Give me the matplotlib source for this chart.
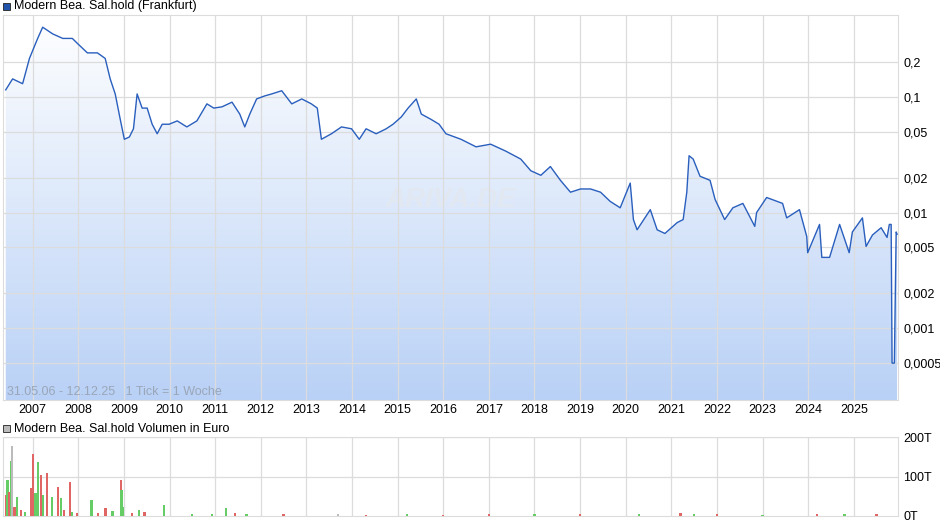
import matplotlib
matplotlib.use("Agg")
import matplotlib.pyplot as plt
import numpy as np
from matplotlib.patches import Rectangle
from matplotlib.colors import LinearSegmentedColormap

# ---- data (decimal years) ----
price_t = [2006.41,2006.56,2006.78,2006.93,2007.11,2007.22,2007.44,2007.66,2007.87,2007.98,
           2008.20,2008.42,2008.59,2008.70,2008.81,2008.92,2009.01,2009.12,2009.21,2009.29,
           2009.40,2009.51,2009.62,2009.73,2009.84,2009.99,2010.17,2010.38,2010.60,2010.82,
           2010.97,2011.15,2011.37,2011.54,2011.65,2011.76,2011.91,2012.09,2012.24,2012.46,
           2012.68,2012.90,2013.11,2013.24,2013.33,2013.55,2013.77,2013.99,2014.16,2014.31,
           2014.53,2014.75,2014.90,2015.08,2015.23,2015.41,2015.52,2015.73,2015.91,2016.06,
           2016.39,2016.72,2017.04,2017.37,2017.70,2017.92,2018.14,2018.35,2018.57,2018.79,
           2019.01,2019.23,2019.45,2019.66,2019.88,2020.10,2020.17,2020.25,2020.54,2020.69,
           2020.86,2021.13,2021.26,2021.34,2021.39,2021.48,2021.63,2021.85,2021.96,2022.17,
           2022.35,2022.57,2022.83,2022.87,2023.09,2023.44,2023.53,2023.81,2023.97,2023.99,
           2024.25,2024.30,2024.47,2024.69,2024.90,2024.97,2025.19,2025.27,2025.41,2025.60,
           2025.73,2025.78,2025.82,2025.84,2025.89,2025.93,2025.95]
price_v = [0.115,0.143,0.13,0.215,0.32,0.40,0.35,0.32,0.32,0.29,
           0.24,0.24,0.215,0.143,0.106,0.064,0.043,0.045,0.053,0.106,
           0.08,0.08,0.058,0.048,0.058,0.058,0.062,0.055,0.062,0.087,
           0.08,0.082,0.09,0.071,0.055,0.071,0.096,0.102,0.106,0.113,
           0.087,0.096,0.087,0.08,0.043,0.048,0.055,0.053,0.043,0.053,
           0.048,0.053,0.058,0.067,0.08,0.096,0.071,0.064,0.058,0.048,
           0.043,0.037,0.039,0.034,0.029,0.023,0.021,0.025,0.019,0.015,
           0.016,0.016,0.015,0.0125,0.011,0.018,0.0087,0.0071,0.0106,0.0071,
           0.0066,0.0082,0.0087,0.015,0.031,0.029,0.0206,0.019,0.013,0.0087,
           0.011,0.012,0.0076,0.010,0.0135,0.012,0.0090,0.0106,0.0062,0.0045,
           0.0079,0.0041,0.0041,0.0079,0.0045,0.0068,0.0090,0.0051,0.0064,0.0074,
           0.0061,0.0079,0.0079,0.0005,0.0005,0.0068,0.0065]

vol_t = [2006.42,2006.45,2006.49,2006.53,2006.55,2006.60,2006.66,2006.74,2006.83,2006.96,
         2007.01,2007.06,2007.12,2007.18,2007.23,2007.31,2007.42,2007.55,2007.62,2007.68,
         2007.82,2007.87,2007.98,2008.29,2008.44,2008.60,2008.75,2008.93,2008.95,2008.98,
         2009.18,2009.33,2009.45,2009.88,2010.49,2010.93,2011.24,2011.43,2011.69,2012.5,
         2013.7,2014.3,2015.2,2016.0,2017.0,2018.0,2019.0,2020.3,2021.2,2021.5,
         2022.0,2023.0,2024.2,2024.8,2025.5]
vol_v = [54,92,62,138,177,23,49,15,10,72,
         156,59,136,105,54,110,49,74,46,15,
         87,10,8,41,8,20,12,90,67,24,
         8,14,10,28,6,5,20,8,6,4,
         5,3,4,3,4,5,4,6,8,5,
         4,3,5,4,6]
vol_c = ['r','g','r','g','n','r','g','r','g','r',
         'r','g','g','r','g','r','g','r','g','r',
         'r','g','r','g','r','r','g','r','g','g',
         'r','g','r','g','g','g','g','r','g','r',
         'n','r','g','r','r','g','r','g','r','g',
         'r','g','r','g','r']

year_labels = [str(y) for y in range(2007, 2026)]
price_ticks = [0.0005,0.001,0.002,0.005,0.01,0.02,0.05,0.1,0.2]
price_tick_labels = ['0,0005','0,001','0,002','0,005','0,01','0,02','0,05','0,1','0,2']

plt.rcParams['font.family'] = ['Liberation Sans', 'DejaVu Sans']
W, H = 940, 526
fig = plt.figure(figsize=(W/100, H/100), dpi=100)
x0, x1 = 2006.35, 2025.97
grid_c = '#dcdcdc'

def fx(px): return px / W
def fy(py): return 1 - py / H

# ---- price panel ----
ax = fig.add_axes([fx(3), fy(400), fx(898)-fx(3), (400-15)/H])
ax.set_yscale('log')
ax.set_xlim(x0, x1)
ax.set_ylim(0.00024, 0.51)
ymin = 0.00024
poly = ax.fill_between(price_t, price_v, ymin, color='none', lw=0)
cmap = LinearSegmentedColormap.from_list('g', ['#b9d1f6', '#ffffff'])
grad = np.linspace(0, 1, 256).reshape(-1, 1)
im = ax.imshow(grad, cmap=cmap, extent=[0, 1, 0, 1], transform=ax.transAxes,
               aspect='auto', origin='lower', zorder=1)
im.set_clip_path(poly.get_paths()[0], ax.transData)
ax.plot(price_t, price_v, color='#2a5fbd', lw=1.0, zorder=3)
for y in range(2007, 2026):
    ax.axvline(y, color=grid_c, lw=0.9, zorder=2)
for v in price_ticks:
    ax.axhline(v, color=grid_c, lw=0.9, zorder=2)
ax.set_yticks(price_ticks)
ax.set_yticklabels(price_tick_labels)
ax.minorticks_off()
ax.yaxis.tick_right()
ax.tick_params(axis='y', length=0, labelsize=9, pad=4)
ax.set_xticks(range(2007, 2026))
ax.set_xticklabels(year_labels)
ax.tick_params(axis='x', length=0, labelsize=9, pad=3)
for s in ax.spines.values():
    s.set_color(grid_c)
ax.text(0.004, 0.012, '31.05.06 - 12.12.25   1 Tick = 1 Woche', transform=ax.transAxes,
        fontsize=9, color='#9aa6b8', zorder=4)
ax.text(0.50, 0.52, 'ARIVA.DE', transform=ax.transAxes, fontsize=20, fontweight='bold',
        fontstyle='italic', color='#e2e8f2', ha='center', va='center', zorder=1.5)

# ---- volume panel ----
av = fig.add_axes([fx(3), fy(516), fx(898)-fx(3), (516-437)/H])
av.set_xlim(x0, x1)
av.set_ylim(0, 200)
cmap_c = {'r': '#e06666', 'g': '#66cc66', 'n': '#bbbbbb'}
av.bar(vol_t, vol_v, width=0.05, color=[cmap_c[c] for c in vol_c], zorder=3)
for y in range(2007, 2026):
    av.axvline(y, color=grid_c, lw=0.9, zorder=1)
for v in [100, 200]:
    av.axhline(v, color=grid_c, lw=0.9, zorder=1)
av.set_xticks([])
av.set_yticks([0, 100, 200])
av.set_yticklabels(['0T', '100T', '200T'])
av.yaxis.tick_right()
av.tick_params(axis='y', length=0, labelsize=9, pad=4)
for s in av.spines.values():
    s.set_color(grid_c)

# ---- headers ----
fig.patches.append(Rectangle((fx(3), fy(10)), 7/W, 7/H, transform=fig.transFigure,
                             facecolor='#2255aa', edgecolor='#222222', lw=0.6))
fig.text(fx(14), fy(6.5), 'Modern Bea. Sal.hold (Frankfurt)', fontsize=9, va='center')
fig.patches.append(Rectangle((fx(3), fy(432)), 7/W, 7/H, transform=fig.transFigure,
                             facecolor='#bbbbbb', edgecolor='#222222', lw=0.6))
fig.text(fx(14), fy(428.5), 'Modern Bea. Sal.hold Volumen in Euro', fontsize=9, va='center')

fig.savefig('out.png', dpi=100, facecolor='white')
